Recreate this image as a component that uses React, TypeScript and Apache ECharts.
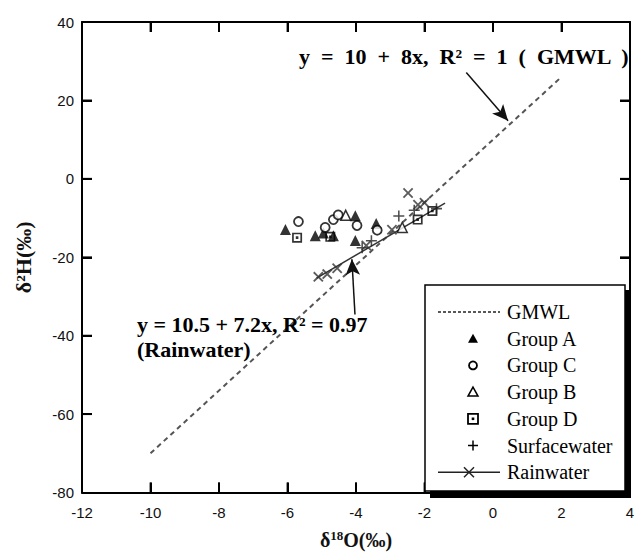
import React, { useEffect, useRef } from "react";
import * as echarts from "echarts";

// ---- data ----
const xMin = -12, xMax = 4, xStep = 2;
const yMin = -80, yMax = 40, yStep = 20;
const xTickValues = [-10, -8, -6, -4, -2, 0, 2];
const yTickValues = [-60, -40, -20, 0, 20];

const gmwlLine = [[-10, -70], [2, 26]];
const rainFitLine = [[-5.15, -25.3], [-1.4, -6.2]];

const groupA = [[-6.06, -12.9], [-5.19, -14.5], [-4.95, -13.8], [-4.66, -14.5], [-4.02, -9.4], [-4.02, -15.7], [-3.41, -11.4]];
const groupC = [[-5.68, -10.9], [-4.9, -12.4], [-4.66, -10.4], [-4.52, -9.2], [-3.97, -11.9], [-3.38, -13.1]];
const groupB = [[-4.3, -9.3], [-2.65, -12.4]];
const groupD = [[-5.72, -15.0], [-4.75, -14.8], [-2.2, -10.4], [-1.77, -8.2]];
const surfacewater = [[-3.82, -17.6], [-3.55, -15.8], [-2.75, -9.5], [-2.3, -8.0], [-1.65, -7.6]];
const rainwater = [[-5.1, -25.0], [-4.84, -24.3], [-4.55, -22.8], [-3.7, -17.0], [-2.95, -13.0], [-2.48, -3.6], [-2.19, -6.6], [-2.0, -6.1]];

const gmwlArrow = [[-0.78, 27.1], [0.44, 14.8]];
const rainArrow = [[-4.03, -34.6], [-4.12, -20.5]];

const legendNames = ["GMWL", "Group A", "Group C", "Group B", "Group D", "Surfacewater", "Rainwater"];
const gmwlLabel = "y  =  10  +  8x,  R²  =  1  (  GMWL  )";
const rainLabel1 = "y = 10.5 + 7.2x, R² = 0.97";
const rainLabel2 = "(Rainwater)";

const PLUS = "path://M4.3,0L5.7,0L5.7,4.3L10,4.3L10,5.7L5.7,5.7L5.7,10L4.3,10L4.3,5.7L0,5.7L0,4.3L4.3,4.3Z";
const SQDOT = "path://M0,0L10,0L10,10L0,10Z M1.7,1.7L1.7,8.3L8.3,8.3L8.3,1.7Z M3.7,3.7L6.3,3.7L6.3,6.3L3.7,6.3Z";

const SERIF = '"Liberation Serif", "Times New Roman", serif';
const TICK_LEN = 10;
const GRID = { left: 82, right: 10, top: 22, bottom: 57 };
const W = 640, H = 555;

export default function App() {
  const ref = useRef<HTMLDivElement>(null);
  useEffect(() => {
    const chart = echarts.init(ref.current!, null, { renderer: "svg" });
    const mkLine = () => ({ show: true, onZero: false, lineStyle: { color: "#000", width: 2 } });
    const mkTick = () => ({ show: true, inside: true, length: TICK_LEN, lineStyle: { color: "#000", width: 2 } });
    const labelStyle = { color: "#111", fontSize: 15, fontFamily: '"Liberation Sans", Arial, sans-serif' };

    // legend graphics
    const lx = 473, tx = 507, ly0 = 312, dy = 26.7;
    const legendItems: any[] = [
      { type: "rect", shape: { x: 430, y: 290, width: 201, height: 208 }, style: { fill: "#000" }, z: 10 },
      { type: "rect", shape: { x: 425, y: 285, width: 200, height: 206 }, style: { fill: "#fff", stroke: "#000", lineWidth: 1.5 }, z: 11 },
    ];
    legendNames.forEach((n, i) => {
      legendItems.push({
        type: "text", x: tx, y: ly0 + i * dy, z: 12,
        style: { text: n, font: `20px ${SERIF}`, fill: "#000", align: "left", verticalAlign: "middle" },
      });
    });
    const r = (i: number) => ly0 + i * dy;
    legendItems.push(
      { type: "line", z: 12, shape: { x1: 438, y1: r(0), x2: 500, y2: r(0) }, style: { stroke: "#222", lineWidth: 1.5, lineDash: [3, 2] } },
      { type: "polygon", z: 12, shape: { points: [[lx, r(1) - 5], [lx + 5, r(1) + 4], [lx - 5, r(1) + 4]] }, style: { fill: "#000" } },
      { type: "circle", z: 12, shape: { cx: lx, cy: r(2), r: 4 }, style: { fill: "#fff", stroke: "#000", lineWidth: 1.8 } },
      { type: "polygon", z: 12, shape: { points: [[lx, r(3) - 5], [lx + 5, r(3) + 4], [lx - 5, r(3) + 4]] }, style: { fill: "#fff", stroke: "#000", lineWidth: 1.5 } },
      { type: "rect", z: 12, shape: { x: lx - 5, y: r(4) - 5, width: 10, height: 10 }, style: { fill: "#fff", stroke: "#000", lineWidth: 1.8 } },
      { type: "rect", z: 12, shape: { x: lx - 1.3, y: r(4) - 1.3, width: 2.6, height: 2.6 }, style: { fill: "#000" } },
      { type: "line", z: 12, shape: { x1: lx - 5, y1: r(5), x2: lx + 5, y2: r(5) }, style: { stroke: "#000", lineWidth: 1.5 } },
      { type: "line", z: 12, shape: { x1: lx, y1: r(5) - 5, x2: lx, y2: r(5) + 5 }, style: { stroke: "#000", lineWidth: 1.5 } },
      { type: "line", z: 12, shape: { x1: 438, y1: r(6), x2: 500, y2: r(6) }, style: { stroke: "#222", lineWidth: 1.5 } },
      { type: "line", z: 12, shape: { x1: 464, y1: r(6) - 5, x2: 474, y2: r(6) + 5 }, style: { stroke: "#222", lineWidth: 1.5 } },
      { type: "line", z: 12, shape: { x1: 474, y1: r(6) - 5, x2: 464, y2: r(6) + 5 }, style: { stroke: "#222", lineWidth: 1.5 } },
    );

    const annotations: any[] = [
      { type: "text", x: 299, y: 56, z: 12, style: { text: gmwlLabel, font: `bold 22px ${SERIF}`, fill: "#000", align: "left", verticalAlign: "middle" } },
      { type: "text", x: 137, y: 324, z: 12, style: { text: rainLabel1, font: `bold 22px ${SERIF}`, fill: "#000", align: "left", verticalAlign: "middle" } },
      { type: "text", x: 137, y: 349, z: 12, style: { text: rainLabel2, font: `bold 22px ${SERIF}`, fill: "#000", align: "left", verticalAlign: "middle" } },
    ];

    const scatter = (name: string, data: number[][], symbol: string, size: any, itemStyle: any, extra: any = {}) => ({
      name, type: "scatter", data, symbol, symbolSize: size, itemStyle, z: 5, ...extra,
    });
    const half = TICK_LEN / 2;
    const tickSeries = [
      scatter("tickB", xTickValues.map((v) => [v, yMin]), "rect", [2, TICK_LEN], { color: "#000" }, { symbolOffset: [0, -half], clip: false, silent: true, z: 9 }),
      scatter("tickT", xTickValues.map((v) => [v, yMax]), "rect", [2, TICK_LEN], { color: "#000" }, { symbolOffset: [0, half], clip: false, silent: true, z: 9 }),
      scatter("tickL", yTickValues.map((v) => [xMin, v]), "rect", [TICK_LEN, 2], { color: "#000" }, { symbolOffset: [half, 0], clip: false, silent: true, z: 9 }),
      scatter("tickR", yTickValues.map((v) => [xMax, v]), "rect", [TICK_LEN, 2], { color: "#000" }, { symbolOffset: [-half, 0], clip: false, silent: true, z: 9 }),
    ];

    chart.setOption({
      animation: false,
      backgroundColor: "#fff",
      grid: { ...GRID, containLabel: false },
      xAxis: [
        {
          type: "value", min: xMin, max: xMax, interval: xStep, position: "bottom",
          axisLine: mkLine(), axisTick: mkTick(), splitLine: { show: false },
          axisLabel: { ...labelStyle, margin: 12 },
          name: "{a|δ}{s|18}{a|O(‰)}", nameLocation: "middle", nameGap: 36,
          nameTextStyle: {
            rich: {
              a: { fontFamily: SERIF, fontSize: 20, fontWeight: "bold", color: "#111" },
              s: { fontFamily: SERIF, fontSize: 13, fontWeight: "bold", color: "#111", verticalAlign: "top", padding: [0, 0, 10, 0] },
            },
          },
        },
        {
          type: "value", min: xMin, max: xMax, interval: xStep, position: "top",
          axisLine: mkLine(), axisTick: mkTick(), splitLine: { show: false }, axisLabel: { show: false },
        },
      ],
      yAxis: [
        {
          type: "value", min: yMin, max: yMax, interval: yStep, position: "left",
          axisLine: mkLine(), axisTick: mkTick(), splitLine: { show: false },
          axisLabel: { ...labelStyle, margin: 8 },
          name: "δ²H(‰)", nameLocation: "middle", nameGap: 48, nameRotate: 90,
          nameTextStyle: { fontFamily: SERIF, fontSize: 22, fontWeight: "bold", color: "#111" },
        },
        {
          type: "value", min: yMin, max: yMax, interval: yStep, position: "right",
          axisLine: mkLine(), axisTick: mkTick(), splitLine: { show: false }, axisLabel: { show: false },
        },
      ],
      series: [
        {
          name: "GMWL", type: "line", data: gmwlLine, showSymbol: false, symbol: "none", z: 3,
          lineStyle: { color: "#555", width: 2, type: [5, 4] },
          markLine: {
            silent: true, symbol: ["none", "arrow"], symbolSize: [11, 16],
            label: { show: false },
            lineStyle: { color: "#111", width: 1.5, type: "solid" },
            data: [
              [{ coord: gmwlArrow[0] }, { coord: gmwlArrow[1] }],
              [{ coord: rainArrow[0] }, { coord: rainArrow[1] }],
            ],
          },
        },
        {
          name: "Rainwater fit", type: "line", data: rainFitLine, showSymbol: false, symbol: "none", z: 3,
          lineStyle: { color: "#333", width: 1.5 },
        },
        scatter("Group A", groupA, "triangle", 11, { color: "#000" }),
        scatter("Group C", groupC, "circle", 9, { color: "#fff", borderColor: "#000", borderWidth: 1.8 }),
        scatter("Group B", groupB, "triangle", 10, { color: "#fff", borderColor: "#000", borderWidth: 1.5 }),
        scatter("Group D", groupD, SQDOT, 10, { color: "#000" }),
        scatter("Surfacewater", surfacewater, PLUS, 11, { color: "#222" }),
        scatter("Rainwater", rainwater, PLUS, 13, { color: "#333" }, { symbolRotate: 45 }),
        ...tickSeries,
      ],
      graphic: [...legendItems, ...annotations],
    });

    return () => chart.dispose();
  }, []);
  return <div ref={ref} style={{ position: "fixed", left: 0, top: 0, width: W, height: H }} />;
}
